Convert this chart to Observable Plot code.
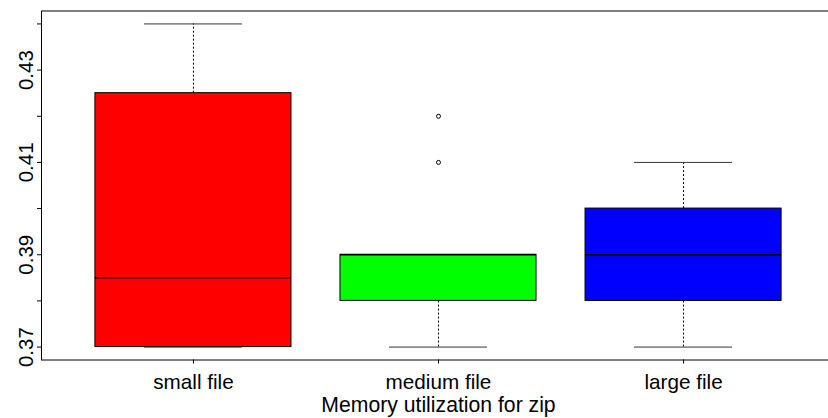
<!DOCTYPE html>
<html>
<head>
<meta charset="utf-8">
<script src="https://cdn.jsdelivr.net/npm/d3@7"></script>
<script src="https://cdn.jsdelivr.net/npm/@observablehq/plot@0.6"></script>
<style>
  html, body { margin: 0; padding: 0; background: #fff; overflow: hidden; }
  #chart svg { overflow: hidden; }
</style>
</head>
<body>
<div id="chart"></div>
<script>
// Data
const categories = ["small file", "medium file", "large file"];
const fills = ["#ff0000", "#00ff00", "#0000ff"];
const lowerWhisker = [0.37, 0.37, 0.37];
const q1 = [0.37, 0.38, 0.38];
const median = [0.385, 0.39, 0.39];
const q3 = [0.425, 0.39, 0.40];
const upperWhisker = [0.44, 0.39, 0.41];
const outlierCategory = ["medium file", "medium file"];
const outlierValue = [0.41, 0.42];
const yTicks = [0.37, 0.38, 0.39, 0.40, 0.41, 0.42, 0.43, 0.44];
const yLabelTicks = [0.37, 0.39, 0.41, 0.43];
const xLabel = "Memory utilization for zip";

// Build table
const boxes = categories.map((c, i) => ({
  cat: c, pos: i + 1, fill: fills[i],
  lo: lowerWhisker[i], q1: q1[i], med: median[i], q3: q3[i], hi: upperWhisker[i]
}));
const outliers = outlierCategory.map((c, i) => ({pos: categories.indexOf(c) + 1, value: outlierValue[i]}));

const boxHalf = 0.4, capHalf = 0.2;
const xDomain = [0.38, 3.62];
const yDomain = [0.3672, 0.4428];

const plot = Plot.plot({
  width: 828,
  height: 418,
  marginLeft: 41,
  marginRight: -7,
  marginTop: 10.5,
  marginBottom: 58.5,
  style: {fontFamily: "'Liberation Sans', Arial, Helvetica, sans-serif", fontSize: "20px", color: "black", background: "white"},
  x: {type: "linear", domain: xDomain, range: [41, 835]},
  y: {type: "linear", domain: yDomain, range: [359.5, 10.5]},
  marks: [
    // whiskers (dashed)
    Plot.ruleX(boxes, {x: "pos", y1: "q3", y2: "hi", stroke: "black", strokeWidth: 1, strokeDasharray: "2,2"}),
    Plot.ruleX(boxes, {x: "pos", y1: "lo", y2: "q1", stroke: "black", strokeWidth: 1, strokeDasharray: "2,2"}),
    // caps
    Plot.ruleY(boxes, {y: "hi", x1: d => d.pos - capHalf, x2: d => d.pos + capHalf, stroke: "#333", strokeWidth: 1}),
    Plot.ruleY(boxes, {y: "lo", x1: d => d.pos - capHalf, x2: d => d.pos + capHalf, stroke: "#333", strokeWidth: 1}),
    // boxes
    Plot.rect(boxes, {x1: d => d.pos - boxHalf, x2: d => d.pos + boxHalf, y1: "q1", y2: "q3", fill: "fill", stroke: "black", strokeWidth: 1}),
    // medians
    Plot.ruleY(boxes, {y: "med", x1: d => d.pos - boxHalf, x2: d => d.pos + boxHalf, stroke: "black", strokeWidth: 1.5}),
    // outliers
    Plot.dot(outliers, {x: "pos", y: "value", r: 2, stroke: "black", strokeWidth: 1, fill: "none"}),
    // frame
    Plot.frame({stroke: "black", strokeWidth: 1}),
    // y axis
    Plot.axisY(yTicks, {anchor: "left", tickSize: 4, tickFormat: () => "", label: null, stroke: "black"}),
    Plot.axisY(yLabelTicks, {anchor: "left", tickSize: 0, tickPadding: 9, tickRotate: -90, tickFormat: d3.format(".2f"), label: null, fontSize: 20.5, fill: "black"}),
    // x axis
    Plot.axisX([1, 2, 3], {anchor: "bottom", tickSize: 4, tickPadding: 10, tickFormat: d => categories[d - 1], label: null, fontSize: 20.7, fill: "black", stroke: "black"}),
    Plot.text([xLabel], {frameAnchor: "bottom", dy: 52, lineAnchor: "bottom", fontSize: 21.2, fill: "black"})
  ]
});
document.getElementById("chart").appendChild(plot);
</script>
</body>
</html>
